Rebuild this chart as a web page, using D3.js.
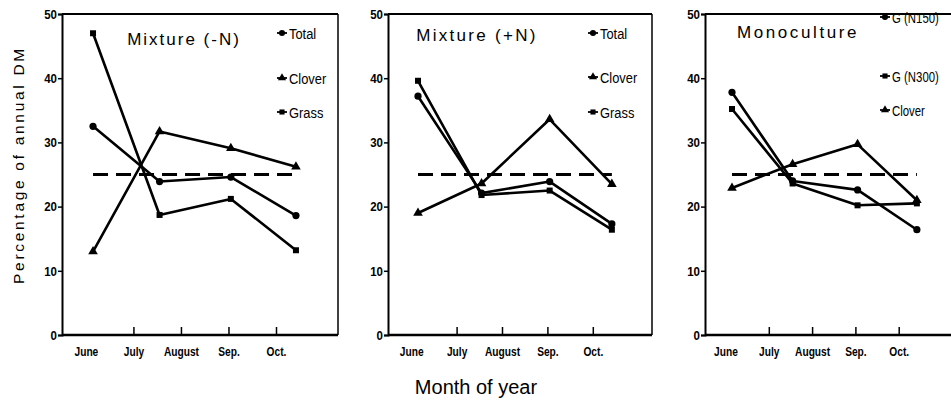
<!DOCTYPE html>
<html><head><meta charset="utf-8">
<script src="https://cdn.jsdelivr.net/npm/d3@7/dist/d3.min.js"></script>
<style>body{margin:0;background:#fff}svg{display:block}</style>
</head><body>
<svg id="chart" width="951" height="415"></svg>
<script>
// ---- data ----
const months = ["June", "July", "August", "Sep.", "Oct."];
const harvestPos = [0.15, 1.55, 3.05, 4.42];   // harvest dates, in month units from June
const yTicks = [0, 10, 20, 30, 40, 50];
const reference = 25;

const mixNegTotal  = [32.5, 23.9, 24.6, 18.6];
const mixNegClover = [13.0, 31.7, 29.1, 26.2];
const mixNegGrass  = [47.0, 18.7, 21.2, 13.2];

const mixPosTotal  = [37.2, 22.1, 23.9, 17.3];
const mixPosClover = [19.0, 23.6, 33.6, 23.5];
const mixPosGrass  = [39.6, 21.8, 22.5, 16.4];

const monoN150   = [37.8, 24.0, 22.6, 16.4];
const monoN300   = [35.2, 23.6, 20.2, 20.5];
const monoClover = [22.9, 26.6, 29.7, 21.0];

const titles = ["Mixture  (-N)", "Mixture  (+N)", "Monoculture"];
const legendNames = [["Total", "Clover", "Grass"], ["Total", "Clover", "Grass"], ["G (N150)", "G (N300)", "Clover"]];
const seriesSets = [
  [mixNegTotal, mixNegClover, mixNegGrass],
  [mixPosTotal, mixPosClover, mixPosGrass],
  [monoN150, monoN300, monoClover]
];
const markerTypes = [["circle", "triangle", "square"], ["circle", "triangle", "square"], ["circle", "square", "triangle"]];

// ---- layout ----
const layout = [
  {axisX: 62,  right: 338, juneX: 85.9,  octX: 276,   titleX: 184, titleY: 45, titleLS: 2.0, legX: 282, legSX: 0.86, legY: [33, 78, 112]},
  {axisX: 388, right: 652, juneX: 411.2, octX: 592.8, titleX: 477, titleY: 41, titleLS: 2.3, legX: 593, legSX: 0.86, legY: [33, 77, 112]},
  {axisX: 705, right: 965, juneX: 725.5, octX: 898.7, titleX: 798, titleY: 38, titleLS: 2.6, legX: 885, legSX: 0.76, legY: [17, 76, 110]}
];
const yTop = 14, yBot = 335;
const sans = "Liberation Sans, Arial, sans-serif";

const svg = d3.select("#chart");
const y = d3.scaleLinear().domain([0, 50]).range([yBot, yTop]);

function narrowText(g, x, yy, txt, size, anchor, sx, weight) {
  return g.append("text")
    .attr("transform", `translate(${x},${yy}) scale(${sx},1)`)
    .attr("text-anchor", anchor).attr("font-family", sans)
    .attr("font-size", size).attr("font-weight", weight || "normal").text(txt);
}

function drawMarker(g, type, cx, cy, s) {
  if (type === "circle") {
    g.append("circle").attr("cx", cx).attr("cy", cy).attr("r", 3.6 * s).attr("fill", "#000");
  } else if (type === "square") {
    g.append("rect").attr("x", cx - 3 * s).attr("y", cy - 3 * s).attr("width", 6 * s).attr("height", 6 * s).attr("fill", "#000");
  } else {
    const sym = d3.symbol().type(d3.symbolTriangle).size(40 * s * s);
    g.append("path").attr("d", sym()).attr("transform", `translate(${cx},${cy})`).attr("fill", "#000");
  }
}

layout.forEach((L, pi) => {
  const g = svg.append("g");
  const x = d3.scaleLinear().domain([0, 4]).range([L.juneX, L.octX]);

  // frame: top and right borders
  g.append("line").attr("x1", L.axisX).attr("x2", L.right).attr("y1", yTop).attr("y2", yTop)
    .attr("stroke", "#000").attr("stroke-width", 2);
  g.append("line").attr("x1", L.right).attr("x2", L.right).attr("y1", yTop).attr("y2", yBot)
    .attr("stroke", "#000").attr("stroke-width", 1.5);

  // y axis
  const yAxis = d3.axisLeft(y).tickValues(yTicks).tickSize(4).tickPadding(2).tickFormat(d3.format("d"));
  const ya = g.append("g").attr("transform", `translate(${L.axisX},0)`).call(yAxis);
  ya.select(".domain").attr("stroke-width", 2);
  ya.selectAll(".tick line").attr("stroke-width", 1.5);
  ya.selectAll("text").attr("font-family", sans).attr("font-size", 13.5).attr("font-weight", "bold")
    .attr("transform", "scale(0.85,1)");

  // x axis (ticks pointing inward, no tick at June)
  const xAxis = d3.axisBottom(x).tickValues([0, 1, 2, 3, 4]).tickSize(0).tickPadding(12)
    .tickFormat(i => months[i]);
  const xa = g.append("g").attr("transform", `translate(0,${yBot})`).call(xAxis);
  xa.select(".domain").attr("d", `M${L.axisX},0H${L.right}`).attr("stroke-width", 2.5);
  xa.selectAll("text").attr("font-family", sans).attr("font-size", 12).attr("font-weight", "bold")
    .attr("transform", "scale(0.85,1)");
  xa.selectAll(".tick").filter(d => d > 0).append("line")
    .attr("y1", 0).attr("y2", -8).attr("stroke", "#000").attr("stroke-width", 1.5);

  // reference dashed line
  g.append("line").attr("x1", x(harvestPos[0])).attr("x2", x(harvestPos[3]))
    .attr("y1", y(reference)).attr("y2", y(reference))
    .attr("stroke", "#000").attr("stroke-width", 3).attr("stroke-dasharray", "15,8");

  // series
  const line = d3.line().x((d, i) => x(harvestPos[i])).y(d => y(d));
  seriesSets[pi].forEach((vals, si) => {
    g.append("path").datum(vals).attr("d", line).attr("fill", "none")
      .attr("stroke", "#000").attr("stroke-width", 2.6).attr("stroke-linejoin", "round");
    vals.forEach((v, i) => drawMarker(g, markerTypes[pi][si], x(harvestPos[i]), y(v), 1));
  });

  // title
  g.append("text").attr("x", L.titleX).attr("y", L.titleY).attr("text-anchor", "middle")
    .attr("font-family", sans).attr("font-size", 17)
    .attr("letter-spacing", L.titleLS).text(titles[pi]);

  // legend
  legendNames[pi].forEach((name, li) => {
    const ly = L.legY[li];
    g.append("line").attr("x1", L.legX - 5).attr("x2", L.legX + 5).attr("y1", ly).attr("y2", ly)
      .attr("stroke", "#000").attr("stroke-width", 1.8);
    drawMarker(g, markerTypes[pi][li], L.legX, ly, 0.85);
    narrowText(g, L.legX + 7, ly + 5.5, name, 15, "start", L.legSX);
  });
});

// axis titles
svg.append("text").attr("transform", "translate(24,165) rotate(-90)").attr("text-anchor", "middle")
  .attr("font-family", sans).attr("font-size", 15.5)
  .attr("letter-spacing", 2.7).text("Percentage of annual DM");
svg.append("text").attr("x", 476).attr("y", 394).attr("text-anchor", "middle")
  .attr("font-family", sans).attr("font-size", 20)
  .text("Month of year");
</script>
</body></html>
